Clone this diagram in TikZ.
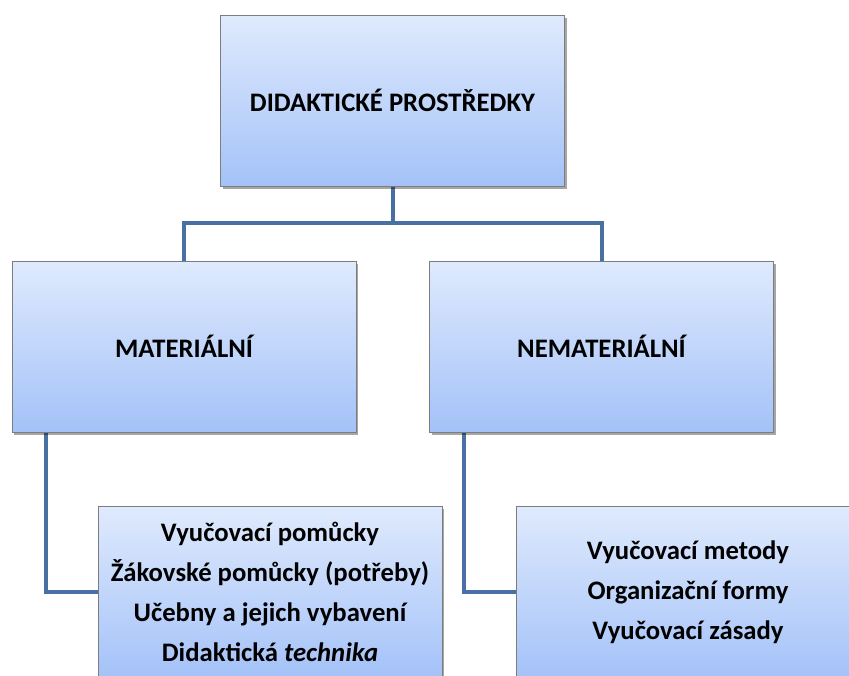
\documentclass[tikz,border=0pt]{standalone}
\usepackage{fontspec}
\setmainfont{Carlito}
\usetikzlibrary{shadows,backgrounds}
\definecolor{boxtop}{RGB}{223,234,253}
\definecolor{boxbot}{RGB}{164,194,248}
\definecolor{linkc}{RGB}{72,112,162}
\definecolor{edgec}{RGB}{125,125,125}
\begin{document}
\begin{tikzpicture}[x=1pt,y=-1pt,
 box/.style={draw=edgec, line width=0.8pt, top color=boxtop, bottom color=boxbot,
   minimum width=344pt, minimum height=171pt, inner sep=0pt,
   font=\fontsize{26.7}{40}\selectfont\bfseries, align=center,
   drop shadow={shadow xshift=2pt, shadow yshift=-2.5pt, opacity=0.35, fill=black}},
 link/.style={draw=linkc, line width=4pt}]
\useasboundingbox (0,0) rectangle (849,675);
\node[box] (top) at (392.5,100.5) {DIDAKTICKÉ PROSTŘEDKY};
\node[box] (mat) at (184,346.5) {MATERIÁLNÍ};
\node[box] (nemat) at (601.5,346.5) {NEMATERIÁLNÍ};
\node[box] (matlist) at (270,592) {Vyučovací pomůcky\\Žákovské pomůcky (potřeby)\\Učebny a jejich vybavení\\Didaktická \textit{technika}};
\node[box] (nematlist) at (688,592) {Vyučovací metody\\Organizační formy\\Vyučovací zásady};
\begin{scope}[on background layer]
\draw[link] (top.south) -- ++(0,37) coordinate (j);
\draw[link] (mat.north) |- (j) -| (nemat.north);
\draw[link] ([xshift=-138pt]mat.south) |- (matlist.west);
\draw[link] ([xshift=-137.5pt]nemat.south) |- (nematlist.west);
\end{scope}
\end{tikzpicture}
\end{document}
